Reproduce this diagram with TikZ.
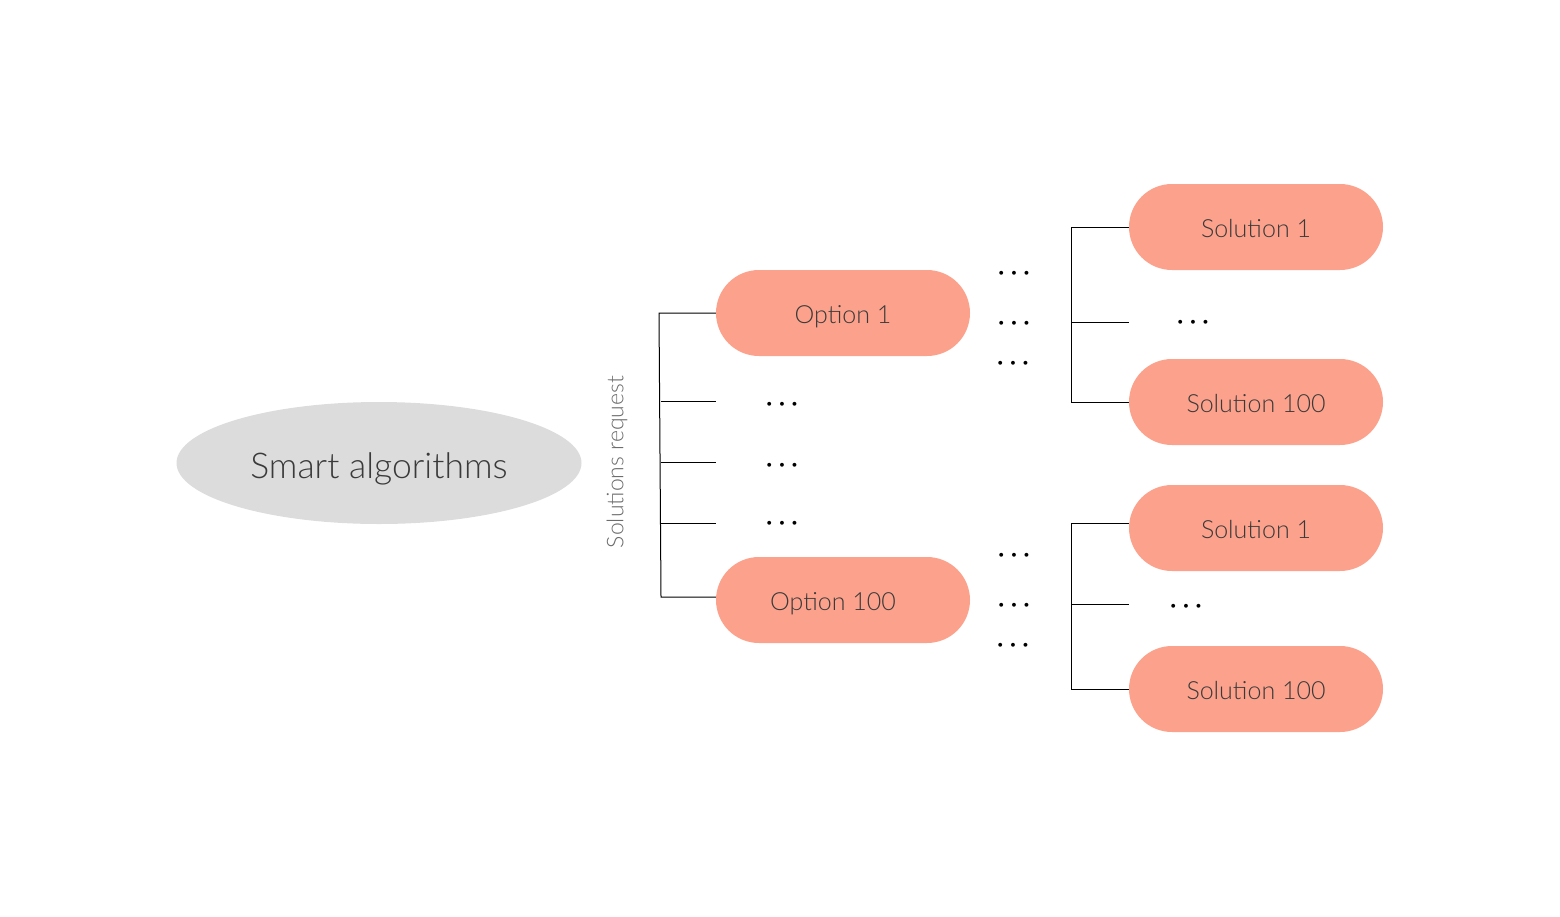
\documentclass[tikz,border=0pt]{standalone}
\usepackage{fontspec}
\setmainfont{Lato}[UprightFont={* Light}]
\usetikzlibrary{shapes.geometric,shapes.misc}
\definecolor{salmon}{HTML}{FCA28C}
\definecolor{ellgray}{HTML}{DCDCDC}
\definecolor{txt}{HTML}{3A3A3A}
\tikzset{
  pill/.style={rounded rectangle, fill=salmon, minimum width=254pt, minimum height=86pt, text=txt, font=\fontsize{25}{30}\selectfont, inner sep=0pt, text height=21pt, text depth=0pt},
  conn/.style={draw=black, line width=1pt},
  ell/.style={ellipse, fill=ellgray, minimum width=405pt, minimum height=122pt, text=txt, font=\fontsize{35.5}{42}\selectfont, inner sep=0pt, text height=30pt, text depth=0pt},
  dots/.style={font=\fontsize{27}{30}\selectfont\boldmath, inner sep=0pt},
}
\begin{document}
\begin{tikzpicture}[x=1pt,y=-1pt]
\useasboundingbox (0,0) rectangle (1560,916);
\node[ell] (sa) at (379,463) {Smart algorithms};
\node[rotate=90, text=txt!75, font=\fontsize{23}{28}\selectfont] (req) at (617,462) {Solutions request};

\node[pill] (o1) at (843,313) {Option 1};
\node[pill] (o100) at (843,600) {Option 100\hspace*{20pt}};
\node[pill] (s1a) at (1256,227) {Solution 1};
\node[pill] (s100a) at (1256,402) {Solution 100};
\node[pill] (s1b) at (1256,528) {Solution 1};
\node[pill] (s100b) at (1256,689) {Solution 100};

% left bracket
\coordinate (lt) at (659,313);
\coordinate (lb) at (661,597);
\coordinate (l2) at (661,401); \coordinate (l2e) at (716,401);
\coordinate (l3) at (661,462); \coordinate (l3e) at (716,462);
\coordinate (l4) at (661,523); \coordinate (l4e) at (716,523);
\draw[conn] (o1.west) -- (lt) -- (lb) -- (lb -| o100.west);
\draw[conn] (l2) -- (l2e);
\draw[conn] (l3) -- (l3e);
\draw[conn] (l4) -- (l4e);

% right top bracket
\coordinate (rt) at (1071,227);
\coordinate (rb) at (1071,402);
\coordinate (rm) at (1071,322); \coordinate (rme) at (1129,322);
\draw[conn] (s1a.west) -- (rt) -- (rb) -- (s100a.west);
\draw[conn] (rm) -- (rme);

% right bottom bracket
\coordinate (bt) at (1071,523);
\coordinate (bb) at (1071,689);
\coordinate (bm) at (1071,604); \coordinate (bme) at (1129,604);
\draw[conn] (bt -| s1b.west) -- (bt) -- (bb) -- (s100b.west);
\draw[conn] (bm) -- (bme);

% dots
\foreach \n/\x/\y in {d1/782/405, d2/782/466, d3/782/524,
  d4/1014/274, d5/1014/324, d6/1013/364, d7/1014/556, d8/1014/606, d9/1013/646,
  d10/1193/323, d11/1186/607}
  \node[dots, anchor=center] (\n) at (\x,\y) {$\cdots$};
\end{tikzpicture}
\end{document}
